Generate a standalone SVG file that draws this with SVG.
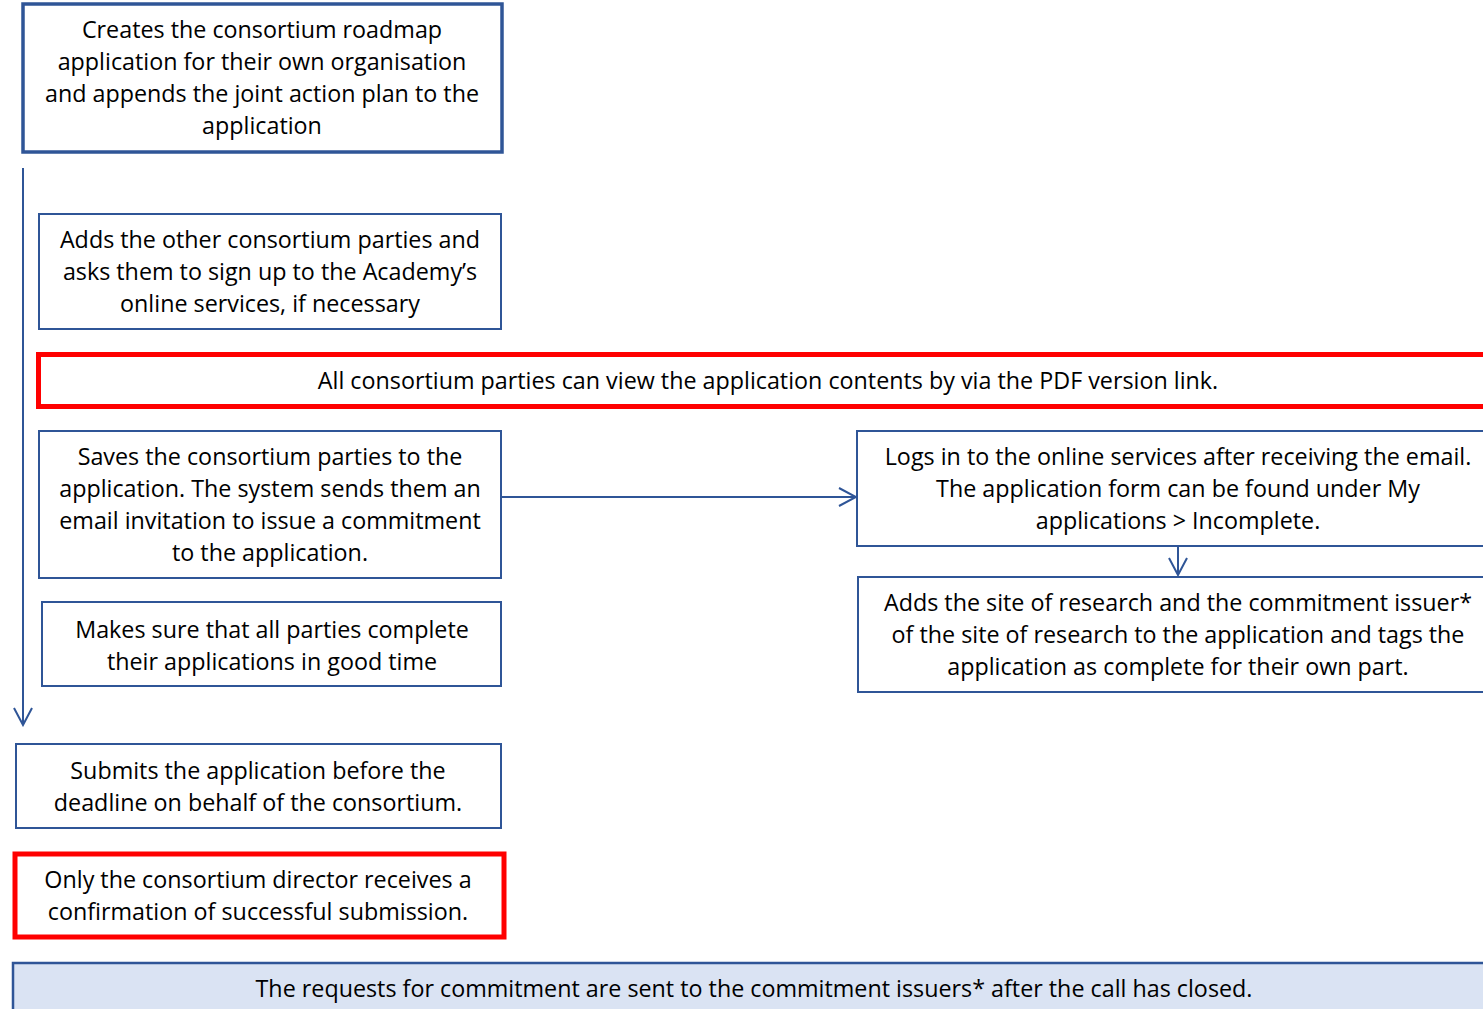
<svg xmlns="http://www.w3.org/2000/svg" width="1483" height="1009" viewBox="0 0 1483 1009">
<style>
.b{fill:#fff;stroke:#2F5597;stroke-width:2}
.bt{fill:#fff;stroke:#2F5597;stroke-width:3.5}
.r{fill:#fff;stroke:#FF0000;stroke-width:5}
.f{fill:#DAE3F3;stroke:#2F5597;stroke-width:2.5}
text{font-family:"Open Sans","Liberation Sans",Arial,sans-serif;font-size:23.3px;fill:#000;text-anchor:middle}
.c{fill:none;stroke:#2F5597;stroke-width:2}
</style>
<defs>
<marker id="ah" viewBox="0 0 20 20" refX="18" refY="10" markerWidth="20" markerHeight="20" markerUnits="userSpaceOnUse" orient="auto">
<path d="M1,1 L18,10 L1,19" fill="none" stroke="#2F5597" stroke-width="2"/>
</marker>
</defs>
<g id="connectors">
<line class="c" x1="23" y1="168" x2="23" y2="725" marker-end="url(#ah)"/>
<line class="c" x1="502" y1="497" x2="856" y2="497" marker-end="url(#ah)"/>
<line class="c" x1="1178" y1="547" x2="1178" y2="575" marker-end="url(#ah)"/>
</g>
<g id="n1">
<rect class="bt" x="23" y="4" width="479" height="148"/>
<text x="262" y="38">Creates the consortium roadmap</text>
<text x="262" y="70">application for their own organisation</text>
<text x="262" y="102">and appends the joint action plan to the</text>
<text x="262" y="134">application</text>
</g>
<g id="n2">
<rect class="b" x="39" y="214" width="462" height="115"/>
<text x="270" y="248">Adds the other consortium parties and</text>
<text x="270" y="280">asks them to sign up to the Academy’s</text>
<text x="270" y="312">online services, if necessary</text>
</g>
<g id="n3">
<rect class="r" x="38.5" y="354.5" width="1460" height="52"/>
<text x="768" y="389">All consortium parties can view the application contents by via the PDF version link.</text>
</g>
<g id="n4">
<rect class="b" x="39" y="431" width="462" height="147"/>
<text x="270" y="465">Saves the consortium parties to the</text>
<text x="270" y="497">application. The system sends them an</text>
<text x="270" y="529">email invitation to issue a commitment</text>
<text x="270" y="561">to the application.</text>
</g>
<g id="n5">
<rect class="b" x="857" y="431" width="640" height="115"/>
<text x="1178" y="465">Logs in to the online services after receiving the email.</text>
<text x="1178" y="497">The application form can be found under My</text>
<text x="1178" y="529">applications &gt; Incomplete.</text>
</g>
<g id="n6">
<rect class="b" x="858" y="577" width="640" height="115"/>
<text x="1178" y="611">Adds the site of research and the commitment issuer*</text>
<text x="1178" y="643">of the site of research to the application and tags the</text>
<text x="1178" y="675">application as complete for their own part.</text>
</g>
<g id="n7">
<rect class="b" x="42" y="602" width="459" height="84"/>
<text x="272" y="638">Makes sure that all parties complete</text>
<text x="272" y="670">their applications in good time</text>
</g>
<g id="n8">
<rect class="b" x="16" y="744" width="485" height="84"/>
<text x="258" y="779">Submits the application before the</text>
<text x="258" y="811">deadline on behalf of the consortium.</text>
</g>
<g id="n9">
<rect class="r" x="15" y="854" width="489" height="83"/>
<text x="258" y="888">Only the consortium director receives a</text>
<text x="258" y="920">confirmation of successful submission.</text>
</g>
<g id="n10">
<rect class="f" x="13" y="963" width="1490" height="60"/>
<text x="754" y="997">The requests for commitment are sent to the commitment issuers* after the call has closed.</text>
</g>
</svg>
